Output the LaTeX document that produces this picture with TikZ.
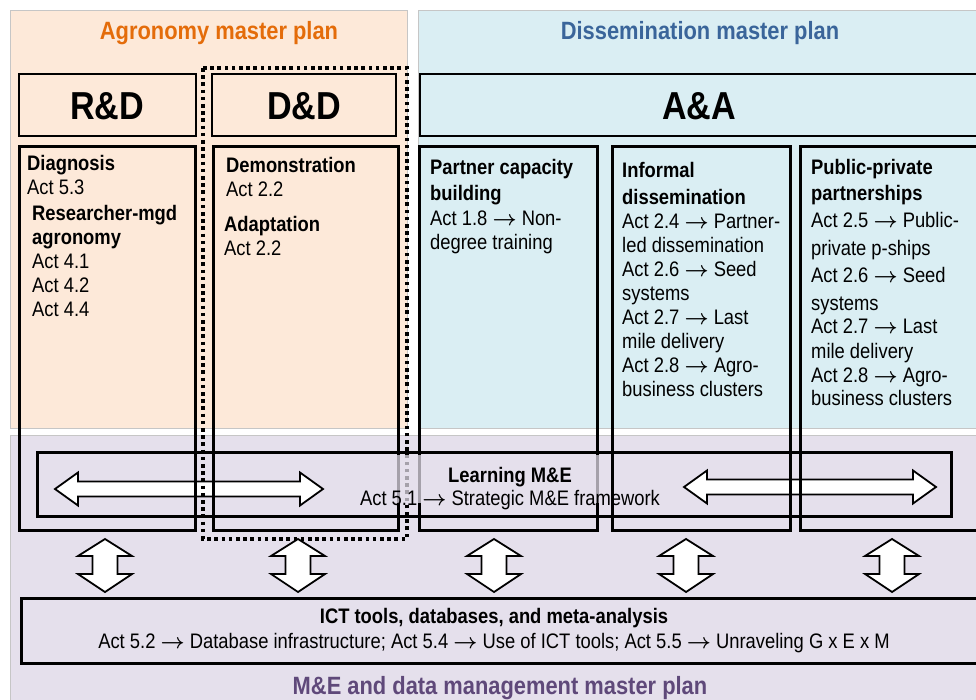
\documentclass[tikz,border=0pt]{standalone}
\usepackage{fix-cm}
\usepackage{fontspec}
\setmainfont{Liberation Sans}[FakeStretch=0.875]
\definecolor{peach}{HTML}{FDE9D9}
\definecolor{paleblue}{HTML}{DAEEF3}
\definecolor{lavender}{HTML}{E5E0EC}
\definecolor{agroorange}{HTML}{E46C0A}
\definecolor{dissblue}{HTML}{3A659A}
\definecolor{meprp}{HTML}{5F497A}
\newcommand\Arr{{\boldmath$\rightarrow$}}
\newcommand\HDArrow[3]{%
  \draw[blockarrow] (#1,#3) -- ({#1+23},{#3-16.5}) -- ({#1+23},{#3-7.5}) -- ({#2-23},{#3-7.5}) -- ({#2-23},{#3-16.5}) -- (#2,#3) -- ({#2-23},{#3+16.5}) -- ({#2-23},{#3+7.5}) -- ({#1+23},{#3+7.5}) -- ({#1+23},{#3+16.5}) -- cycle;}
\newcommand\VDArrow[3]{%
  \draw[blockarrow] (#1,#2) -- ({#1+27},{#2+17}) -- ({#1+12.5},{#2+17}) -- ({#1+12.5},{#3-18}) -- ({#1+27},{#3-18}) -- (#1,#3) -- ({#1-27},{#3-18}) -- ({#1-12.5},{#3-18}) -- ({#1-12.5},{#2+17}) -- ({#1-27},{#2+17}) -- cycle;}
\begin{document}
\begin{tikzpicture}[x=1pt,y=-1pt,
  panel/.style={draw=gray!45, line width=0.8pt},
  headbox/.style={draw=black, line width=1.6pt},
  colbox/.style={draw=black, line width=3pt},
  dotbox/.style={draw=black, line width=3.2pt, dash pattern=on 3.6pt off 3.6pt},
  blockarrow/.style={draw=black, fill=white, line width=1.8pt, line join=miter},
  txt/.style={inner sep=0pt, align=left, anchor=north west, font=\fontsize{21}{24}\selectfont},
  ctxt/.style={inner sep=0pt, align=center, font=\fontsize{21}{24}\selectfont},
  plantitle/.style={inner sep=0pt, anchor=base, font=\fontsize{25}{28}\selectfont\bfseries},
  bigtitle/.style={inner sep=0pt, anchor=base, font=\fontsize{39}{42}\selectfont\bfseries}]
\useasboundingbox (0,0) rectangle (976,700);
\clip (0,0) rectangle (976,700);
\fill[white] (0,0) rectangle (976,700);
% panels
\path[panel, fill=peach] (10,10) rectangle (407.5,428);
\path[panel, fill=paleblue] (418,10) rectangle (990,428);
\path[panel, fill=lavender] (10,435) rectangle (990,710);
% plan titles
\node[plantitle, text=agroorange] (agro) at (219,40) {Agronomy master plan};
\node[plantitle, text=dissblue] (diss) at (700,40) {Dissemination master plan};
\node[plantitle, text=meprp] (metitle) at (500,694) {M\&E and data management master plan};
% header boxes
\draw[headbox] (19,74) rectangle (196,136);
\draw[headbox] (212,74) rectangle (396,136);
\draw[headbox] (420,74) rectangle (990,136);
\node[bigtitle] (rd) at (107,120) {R\&D};
\node[bigtitle] (dd) at (304,120) {D\&D};
\node[bigtitle] (aa) at (699,120) {A\&A};
% horizontal double arrows
\HDArrow{55}{323}{489}
\HDArrow{684}{936}{487}
% learning box
\draw[colbox] (37,452) rectangle (951,516);
% column boxes
\draw[colbox] (19.5,147) rectangle (195,530);
\draw[colbox] (213.5,147) rectangle (398.5,530);
\draw[colbox] (419.5,147) rectangle (597,530);
\draw[colbox] (612,147) rectangle (790,530);
\draw[colbox] (800,147) rectangle (990,530);
% dotted frame around D&D
\draw[dotbox] (203,68) rectangle (407,539);
% faded strip behind learning text
\fill[lavender, fill opacity=0.72] (396,455) rectangle (601,503);
\node[ctxt, anchor=north] (learn) at (510,467.5) {\textbf{Learning M\&E}\\[-1pt]Act 5.1 \Arr{} Strategic M\&E framework};
% column texts
\node[txt] (c1a) at (27,155.5) {\textbf{Diagnosis}\\Act 5.3};
\node[txt] (c1b) at (32,205.5) {\textbf{Researcher-mgd}\\\textbf{agronomy}\\Act 4.1\\Act 4.2\\Act 4.4};
\node[txt] (c2a) at (226,157.5) {\textbf{Demonstration}\\Act 2.2};
\node[txt] (c2b) at (224,216.5) {\textbf{Adaptation}\\Act 2.2};
\node[txt] (c3) at (430,159.5) {\textbf{Partner capacity}\\[2pt]\textbf{building}\\[1pt]Act 1.8 \Arr{} Non-\\degree training};
\node[txt] (c4) at (622,162.5) {\textbf{Informal}\\[3pt]\textbf{dissemination}\\Act 2.4 \Arr{} Partner-\\led dissemination\\Act 2.6 \Arr{} Seed\\systems\\Act 2.7 \Arr{} Last\\mile delivery\\Act 2.8 \Arr{} Agro-\\business clusters};
\node[txt] (c5) at (811,159.5) {\textbf{Public-private}\\[2pt]\textbf{partnerships}\\[3pt]Act 2.5 \Arr{} Public-\\[4pt]private p-ships\\[3pt]Act 2.6 \Arr{} Seed\\[4pt]systems\\[-1pt]Act 2.7 \Arr{} Last\\[1pt]mile delivery\\Act 2.8 \Arr{} Agro-\\[-1pt]business clusters};
% vertical double arrows
\VDArrow{105}{539}{592}
\VDArrow{298}{539}{592}
\VDArrow{494}{539}{592}
\VDArrow{686}{539}{592}
\VDArrow{892}{539}{592}
% ICT box
\draw[colbox] (21,598) rectangle (990,663);
\node[ctxt, anchor=north] (ict) at (494,608.5) {\textbf{ICT tools, databases, and meta-analysis}\\[1pt]Act 5.2 \Arr{} Database infrastructure; Act 5.4 \Arr{} Use of ICT tools; Act 5.5 \Arr{} Unraveling G x E x M};
\end{tikzpicture}
\end{document}
